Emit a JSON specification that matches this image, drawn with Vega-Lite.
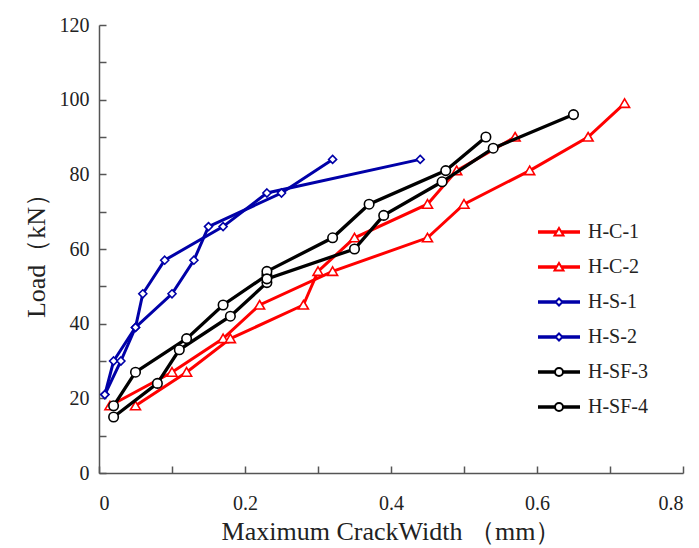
{
  "$schema": "https://vega.github.io/schema/vega-lite/v6.json",
  "width": 584,
  "height": 448,
  "autosize": {"type": "none"},
  "padding": {"left": 99, "top": 25, "right": 16, "bottom": 75},
  "background": "white",
  "config": {"view": {"stroke": null}, "font": "Liberation Serif"},
  "data": {
    "values": [
      {"s": "H-C-1", "i": 1, "w": 0.015, "p": 18},
      {"s": "H-C-1", "i": 2, "w": 0.10, "p": 27},
      {"s": "H-C-1", "i": 3, "w": 0.17, "p": 36},
      {"s": "H-C-1", "i": 4, "w": 0.22, "p": 45},
      {"s": "H-C-1", "i": 5, "w": 0.32, "p": 54},
      {"s": "H-C-1", "i": 6, "w": 0.45, "p": 63},
      {"s": "H-C-1", "i": 7, "w": 0.50, "p": 72},
      {"s": "H-C-1", "i": 8, "w": 0.59, "p": 81},
      {"s": "H-C-1", "i": 9, "w": 0.67, "p": 90},
      {"s": "H-C-1", "i": 10, "w": 0.72, "p": 99},
      {"s": "H-C-2", "i": 1, "w": 0.05, "p": 18},
      {"s": "H-C-2", "i": 2, "w": 0.12, "p": 27},
      {"s": "H-C-2", "i": 3, "w": 0.18, "p": 36},
      {"s": "H-C-2", "i": 4, "w": 0.28, "p": 45},
      {"s": "H-C-2", "i": 5, "w": 0.30, "p": 54},
      {"s": "H-C-2", "i": 6, "w": 0.35, "p": 63},
      {"s": "H-C-2", "i": 7, "w": 0.45, "p": 72},
      {"s": "H-C-2", "i": 8, "w": 0.49, "p": 81},
      {"s": "H-C-2", "i": 9, "w": 0.57, "p": 90},
      {"s": "H-S-1", "i": 1, "w": 0.008, "p": 21},
      {"s": "H-S-1", "i": 2, "w": 0.02, "p": 30},
      {"s": "H-S-1", "i": 3, "w": 0.05, "p": 39},
      {"s": "H-S-1", "i": 4, "w": 0.06, "p": 48},
      {"s": "H-S-1", "i": 5, "w": 0.09, "p": 57},
      {"s": "H-S-1", "i": 6, "w": 0.17, "p": 66},
      {"s": "H-S-1", "i": 7, "w": 0.23, "p": 75},
      {"s": "H-S-1", "i": 8, "w": 0.44, "p": 84},
      {"s": "H-S-2", "i": 1, "w": 0.008, "p": 21},
      {"s": "H-S-2", "i": 2, "w": 0.03, "p": 30},
      {"s": "H-S-2", "i": 3, "w": 0.05, "p": 39},
      {"s": "H-S-2", "i": 4, "w": 0.10, "p": 48},
      {"s": "H-S-2", "i": 5, "w": 0.13, "p": 57},
      {"s": "H-S-2", "i": 6, "w": 0.15, "p": 66},
      {"s": "H-S-2", "i": 7, "w": 0.25, "p": 75},
      {"s": "H-S-2", "i": 8, "w": 0.32, "p": 84},
      {"s": "H-SF-3", "i": 1, "w": 0.02, "p": 18},
      {"s": "H-SF-3", "i": 2, "w": 0.05, "p": 27},
      {"s": "H-SF-3", "i": 3, "w": 0.12, "p": 36},
      {"s": "H-SF-3", "i": 4, "w": 0.17, "p": 45},
      {"s": "H-SF-3", "i": 5, "w": 0.23, "p": 53},
      {"s": "H-SF-3", "i": 6, "w": 0.23, "p": 54},
      {"s": "H-SF-3", "i": 7, "w": 0.32, "p": 63},
      {"s": "H-SF-3", "i": 8, "w": 0.37, "p": 72},
      {"s": "H-SF-3", "i": 9, "w": 0.475, "p": 81},
      {"s": "H-SF-3", "i": 10, "w": 0.53, "p": 90},
      {"s": "H-SF-4", "i": 1, "w": 0.02, "p": 15},
      {"s": "H-SF-4", "i": 2, "w": 0.08, "p": 24},
      {"s": "H-SF-4", "i": 3, "w": 0.11, "p": 33},
      {"s": "H-SF-4", "i": 4, "w": 0.18, "p": 42},
      {"s": "H-SF-4", "i": 5, "w": 0.23, "p": 51},
      {"s": "H-SF-4", "i": 6, "w": 0.23, "p": 52},
      {"s": "H-SF-4", "i": 7, "w": 0.35, "p": 60},
      {"s": "H-SF-4", "i": 8, "w": 0.39, "p": 69},
      {"s": "H-SF-4", "i": 9, "w": 0.47, "p": 78},
      {"s": "H-SF-4", "i": 10, "w": 0.54, "p": 87},
      {"s": "H-SF-4", "i": 11, "w": 0.65, "p": 96}
    ]
  },
  "encoding": {
    "x": {
      "field": "w", "type": "quantitative",
      "scale": {"domain": [0, 0.8], "nice": false, "zero": false},
      "axis": {
        "values": [0, 0.1, 0.2, 0.3, 0.4, 0.5, 0.6, 0.7, 0.8],
        "labelExpr": "round(datum.value*10) % 2 == 0 ? (datum.value == 0 ? '0' : format(datum.value, '.1f')) : ''",
        "grid": false,
        "tickSize": -7, "tickWidth": 1.5, "tickColor": "#555",
        "domainColor": "#555", "domainWidth": 1.5,
        "labelFont": "Liberation Serif", "labelFontSize": 20, "labelColor": "#222",
        "labelPadding": 27, "labelOverlap": false,
        "title": "Maximum CrackWidth （mm）",
        "titleFont": "Liberation Serif", "titleFontSize": 26, "titleFontWeight": "normal", "titleColor": "#222",
        "titlePadding": 5
      }
    },
    "y": {
      "field": "p", "type": "quantitative",
      "scale": {"domain": [0, 120], "nice": false},
      "axis": {
        "values": [0, 10, 20, 30, 40, 50, 60, 70, 80, 90, 100, 110, 120],
        "labelExpr": "datum.value % 20 == 0 ? datum.label : ''",
        "grid": false,
        "tickSize": -7, "tickWidth": 1.5, "tickColor": "#555",
        "domainColor": "#555", "domainWidth": 1.5,
        "labelFont": "Liberation Serif", "labelFontSize": 20, "labelColor": "#222",
        "labelPadding": 17, "labelOverlap": false,
        "title": "Load（kN）",
        "titleFont": "Liberation Serif", "titleFontSize": 26, "titleFontWeight": "normal", "titleColor": "#222",
        "titlePadding": 10
      }
    },
    "stroke": {
      "field": "s", "type": "nominal",
      "scale": {
        "domain": ["H-C-1", "H-C-2", "H-S-1", "H-S-2", "H-SF-3", "H-SF-4"],
        "range": ["#ff0000", "#ff0000", "#0000a8", "#0000a8", "#000000", "#000000"]
      },
      "legend": {
        "orient": "none", "legendX": 450, "legendY": 197, "title": null,
        "symbolSize": 100, "symbolStrokeWidth": 2, "symbolFillColor": "white", "symbolOpacity": 1,
        "labelFont": "Liberation Serif", "labelFontSize": 20, "labelColor": "#222",
        "labelOffset": 19, "rowPadding": 15, "padding": 0
      }
    },
    "order": {"field": "i", "type": "quantitative"}
  },
  "layer": [
    {
      "transform": [{"filter": {"field": "s", "oneOf": ["H-C-1", "H-C-2"]}}],
      "mark": {"type": "line", "strokeWidth": 3},
      "encoding": {"detail": {"field": "s", "type": "nominal"}}
    },
    {
      "transform": [{"filter": {"field": "s", "oneOf": ["H-C-1", "H-C-2"]}}],
      "mark": {"type": "point", "shape": "M0,-0.9L1,0.8L-1,0.8Z", "size": 100, "filled": true, "fill": "white", "strokeWidth": 1.6, "opacity": 1}
    },
    {
      "transform": [{"filter": {"field": "s", "oneOf": ["H-S-1", "H-S-2"]}}],
      "mark": {"type": "line", "strokeWidth": 3},
      "encoding": {"detail": {"field": "s", "type": "nominal"}}
    },
    {
      "transform": [{"filter": {"field": "s", "oneOf": ["H-S-1", "H-S-2"]}}],
      "mark": {"type": "point", "shape": "M0,-0.8L0.8,0L0,0.8L-0.8,0Z", "size": 100, "filled": true, "fill": "white", "strokeWidth": 1.6, "opacity": 1}
    },
    {
      "transform": [{"filter": {"field": "s", "oneOf": ["H-SF-3", "H-SF-4"]}}],
      "mark": {"type": "line", "strokeWidth": 3.3},
      "encoding": {"detail": {"field": "s", "type": "nominal"}}
    },
    {
      "transform": [{"filter": {"field": "s", "oneOf": ["H-SF-3", "H-SF-4"]}}],
      "mark": {"type": "point", "shape": "M-0.95,0A0.95,0.95,0,1,0,0.95,0A0.95,0.95,0,1,0,-0.95,0Z", "size": 100, "filled": true, "fill": "white", "strokeWidth": 1.6, "opacity": 1}
    },
    {
      "mark": {"type": "point", "size": 100, "filled": true, "fill": "white", "strokeWidth": 2, "opacity": 0},
      "encoding": {
        "shape": {
          "field": "s", "type": "nominal",
          "scale": {
            "domain": ["H-C-1", "H-C-2", "H-S-1", "H-S-2", "H-SF-3", "H-SF-4"],
            "range": [
              "M-4.2,-0.15H-0.5M-4.2,0.15H-0.5M0.5,-0.15H4.2M0.5,0.15H4.2M0,-0.8L0.9,0.7L-0.9,0.7Z",
              "M-4.2,-0.15H-0.5M-4.2,0.15H-0.5M0.5,-0.15H4.2M0.5,0.15H4.2M0,-0.8L0.9,0.7L-0.9,0.7Z",
              "M-4.2,-0.15H-0.7M-4.2,0.15H-0.7M0.7,-0.15H4.2M0.7,0.15H4.2M0,-0.7L0.7,0L0,0.7L-0.7,0Z",
              "M-4.2,-0.15H-0.7M-4.2,0.15H-0.7M0.7,-0.15H4.2M0.7,0.15H4.2M0,-0.7L0.7,0L0,0.7L-0.7,0Z",
              "M-4.2,-0.15H-0.8M-4.2,0.15H-0.8M0.8,-0.15H4.2M0.8,0.15H4.2M-0.8,0A0.8,0.8,0,1,0,0.8,0A0.8,0.8,0,1,0,-0.8,0Z",
              "M-4.2,-0.15H-0.8M-4.2,0.15H-0.8M0.8,-0.15H4.2M0.8,0.15H4.2M-0.8,0A0.8,0.8,0,1,0,0.8,0A0.8,0.8,0,1,0,-0.8,0Z"
            ]
          },
          "legend": {
            "orient": "none", "legendX": 450, "legendY": 197, "title": null,
            "symbolSize": 100, "symbolStrokeWidth": 2, "symbolFillColor": "white", "symbolOpacity": 1,
            "labelFont": "Liberation Serif", "labelFontSize": 20, "labelColor": "#222",
            "labelOffset": 19, "rowPadding": 15, "padding": 0
          }
        }
      }
    }
  ]
}
